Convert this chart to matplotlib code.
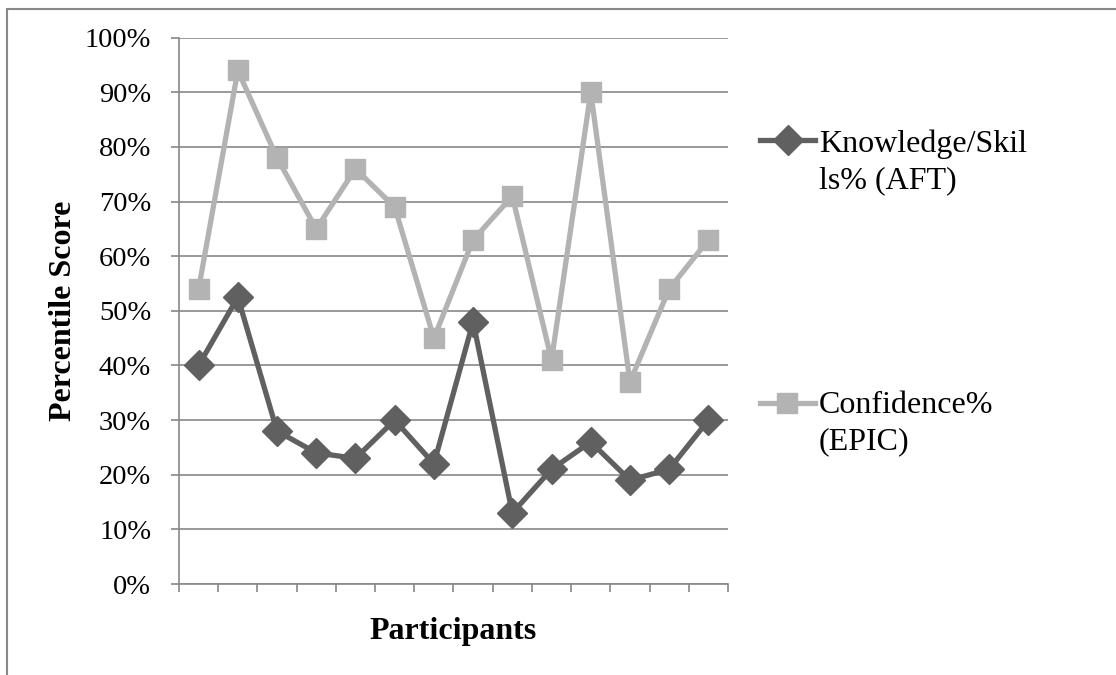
import matplotlib
matplotlib.use("Agg")
import matplotlib.pyplot as plt
from matplotlib.lines import Line2D
from matplotlib.patches import Rectangle
import numpy as np

participants = list(range(1, 15))
knowledge = [40, 52.5, 28, 24, 23, 30, 22, 48, 13, 21, 26, 19, 21, 30]
confidence = [54, 94, 78, 65, 76, 69, 45, 63, 71, 41, 90, 37, 54, 63]
series_labels = ["Knowledge/Skil\nls% (AFT)", "Confidence%\n(EPIC)"]
y_ticks = [0, 10, 20, 30, 40, 50, 60, 70, 80, 90, 100]

dark = "#606060"
light = "#b3b3b3"
grid_c = "#888888"

plt.rcParams['font.family'] = ['Liberation Serif', 'DejaVu Serif']

W, H = 1116, 675
fig = plt.figure(figsize=(W / 100, H / 100), dpi=100)
ax = fig.add_axes([179 / W, 1 - 584 / H, (728 - 179) / W, (584 - 37.7) / H])

LW = 3.8
MS_D = 15
MS_S = 14.5
x = np.arange(len(participants))
ax.plot(x, knowledge, color=dark, lw=LW, marker="D", ms=MS_D, mec=dark, mfc=dark, zorder=3)
ax.plot(x, confidence, color=light, lw=LW, marker="s", ms=MS_S, mec=light, mfc=light, zorder=3)

ax.set_xlim(-0.5, len(participants) - 0.5)
ax.set_ylim(0, 100)
ax.set_yticks(y_ticks)
ax.set_yticklabels([f"{v}%" for v in y_ticks], fontsize=20.5)
ax.set_xticks(np.arange(-0.5, len(participants)), minor=False)
ax.set_xticklabels([])
ax.yaxis.grid(True, color=grid_c, lw=1.2)
ax.set_axisbelow(True)
for s in ["top", "right"]:
    ax.spines[s].set_visible(False)
for s in ["left", "bottom"]:
    ax.spines[s].set_color(grid_c)
    ax.spines[s].set_linewidth(1.2)
ax.tick_params(axis="both", color=grid_c, width=1.2, length=6)
ax.tick_params(axis="y", pad=14)

ax.set_ylabel("Percentile Score", fontsize=23, fontweight="bold", labelpad=5)
ax.set_xlabel("Participants", fontsize=23, fontweight="bold", labelpad=14)

# legend (manual)
def fx(px):
    return px / W

def fy(py):
    return 1 - py / H

fig.add_artist(Line2D([fx(760), fx(815)], [fy(140), fy(140)], color=dark, lw=LW,
                      transform=fig.transFigure))
fig.add_artist(Line2D([fx(788)], [fy(140)], color=dark, marker="D", ms=MS_D, ls="none",
                      transform=fig.transFigure))
fig.add_artist(Line2D([fx(760), fx(815)], [fy(403), fy(403)], color=light, lw=LW,
                      transform=fig.transFigure))
fig.add_artist(Line2D([fx(787)], [fy(403)], color=light, marker="s", ms=MS_S, ls="none",
                      transform=fig.transFigure))
for label, baselines in zip(series_labels, [(152, 188), (413, 449)]):
    for line, b in zip(label.split("\n"), baselines):
        fig.text(fx(819), fy(b), line, fontsize=23, va="baseline", ha="left")

# outer chart frame
fig.add_artist(Rectangle((fx(6.5), fy(700)), fx(1200), fy(8.5) - fy(700), fill=False,
                         ec="#888888", lw=1.5, transform=fig.transFigure))

fig.savefig("out.png", dpi=100)
